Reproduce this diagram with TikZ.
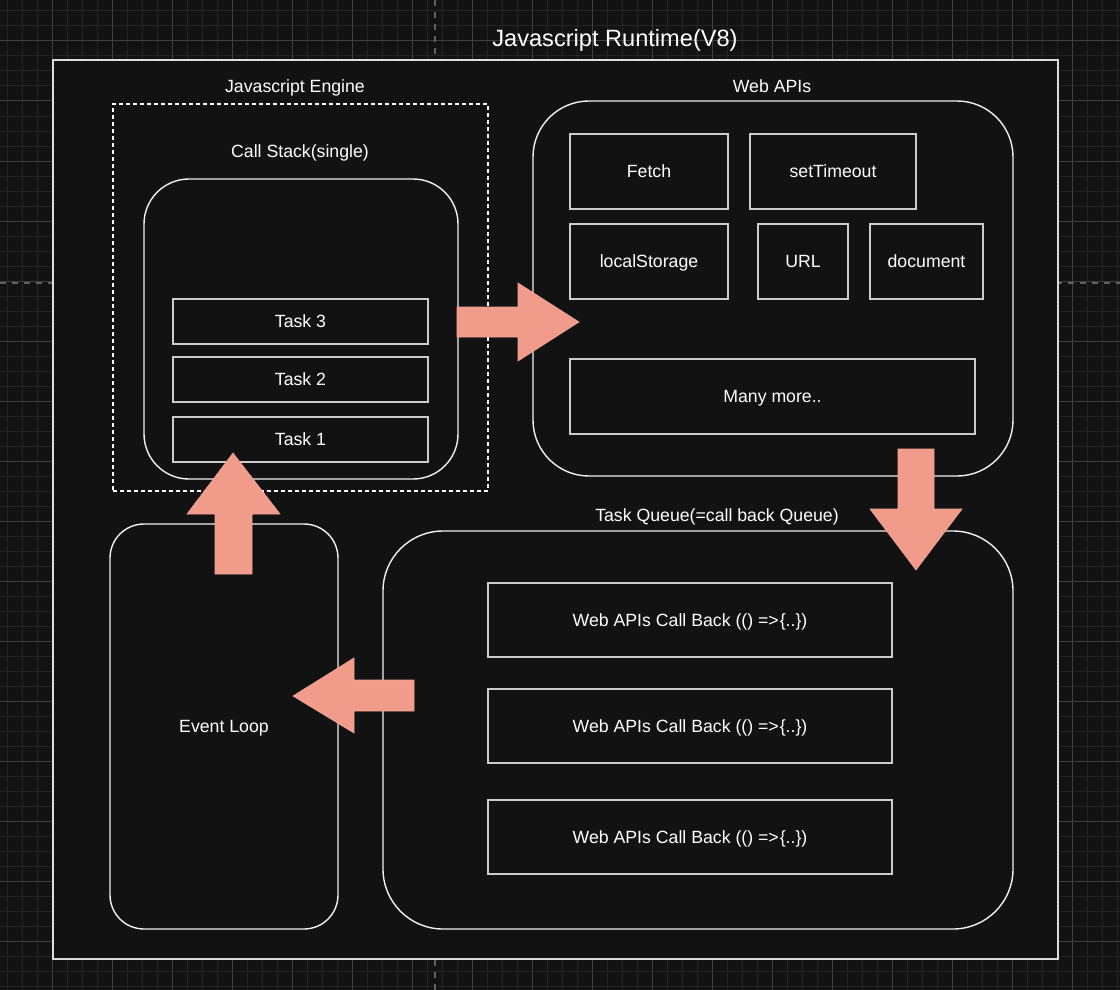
\documentclass[tikz,border=0pt]{standalone}
\usepackage{fontspec}
\setmainfont{Liberation Sans}
\usetikzlibrary{arrows}

\definecolor{bgcol}{RGB}{18,18,18}
\definecolor{minorgrid}{RGB}{36,36,36}
\definecolor{majorgrid}{RGB}{64,64,64}
\definecolor{axisgrid}{RGB}{96,96,96}
\definecolor{cellline}{RGB}{204,204,204}
\definecolor{boxline}{RGB}{240,240,240}
\definecolor{salmon}{RGB}{241,155,139}

\tikzset{
  lbl/.style={text=white, font=\fontsize{17.7}{20}\selectfont, text height=12.6pt, text depth=0pt},
  cell/.style={lbl, draw=cellline, fill=bgcol, line width=1.4pt, inner sep=0pt},
  roundbox/.style={draw=boxline, fill=bgcol, line width=1.4pt, inner sep=0pt},
  bigarrow/.style={fill=salmon, draw=salmon!90!white, line width=0.6pt}
}

\begin{document}
\begin{tikzpicture}[>=latex, x=1pt, y=-1pt]

\useasboundingbox (0,0) rectangle (1120,990);
\fill[bgcol] (0,0) rectangle (1120,990);

%grid
\foreach \x in {7,22,...,1120}
\draw[minorgrid, line width=1pt] (\x,0) -- (\x,990);
\foreach \y in {11,26,...,990}
\draw[minorgrid, line width=1pt] (0,\y) -- (1120,\y);
\foreach \x in {52,112,...,1120}
\draw[majorgrid, line width=1pt] (\x,0) -- (\x,990);
\foreach \y in {41,101,...,990}
\draw[majorgrid, line width=1pt] (0,\y) -- (1120,\y);
\draw[axisgrid, line width=1.5pt, dash pattern=on 6pt off 6pt] (435,0) -- (435,990);
\draw[axisgrid, line width=1.5pt, dash pattern=on 6pt off 6pt] (0,283) -- (1120,283);

\node[lbl, font=\fontsize{23.6}{26}\selectfont, text height=16.8pt] (title) at (615,38) {Javascript Runtime(V8)};
\node[roundbox, draw=boxline!92!black, minimum width=1005pt, minimum height=899pt] (runtime) at (555.5,509.5) {};

% engine + call stack
\node[lbl] (enginelbl) at (295,86) {Javascript Engine};
\node[draw=white, line width=1.2pt, dash pattern=on 4pt off 3pt, minimum width=375pt, minimum height=387pt, inner sep=0pt] (engine) at (300.5,297.5) {};
\node[lbl] (stacklbl) at (300,151) {Call Stack(single)};
\node[roundbox, rounded corners=45pt, minimum width=314pt, minimum height=300pt] (stack) at (301,329) {};
\node[cell, minimum width=255pt, minimum height=45pt] (task3) at (300.5,321.5) {Task 3};
\node[cell, minimum width=255pt, minimum height=45pt] (task2) at (300.5,379.5) {Task 2};
\node[cell, minimum width=255pt, minimum height=45pt] (task1) at (300.5,439.5) {Task 1};

% web apis
\node[lbl] (weblbl) at (772,86) {Web APIs};
\node[roundbox, rounded corners=56pt, minimum width=480pt, minimum height=375pt] (webapis) at (773,288.5) {};
\node[cell, minimum width=158pt, minimum height=75pt] (fetch) at (649,171.5) {Fetch};
\node[cell, minimum width=166pt, minimum height=75pt] (timeout) at (833,171.5) {setTimeout};
\node[cell, minimum width=158pt, minimum height=75pt] (storage) at (649,261.5) {localStorage};
\node[cell, minimum width=90pt, minimum height=75pt] (url) at (803,261.5) {URL};
\node[cell, minimum width=113pt, minimum height=75pt] (document) at (926.5,261.5) {document};
\node[cell, minimum width=405pt, minimum height=75pt] (more) at (772.5,396.5) {Many more..};

% task queue
\node[lbl] (queuelbl) at (717,515) {Task Queue(=call back Queue)};
\node[roundbox, rounded corners=60pt, minimum width=630pt, minimum height=398pt] (queue) at (698,730) {};
\foreach \n/\y in {cb1/620, cb2/726, cb3/837}
\node[cell, minimum width=404pt, minimum height=74pt] (\n) at (690,\y) {Web APIs Call Back (() =>\kern1pt\{..\})};

% event loop
\node[roundbox, lbl, rounded corners=34pt, minimum width=228pt, minimum height=405pt] (loop) at (224,726.5) {Event Loop};

% block arrows
\draw[bigarrow] (457,307) -- (518,307) -- (518,283) -- (579,322) -- (518,361) -- (518,337) -- (457,337) -- cycle;
\draw[bigarrow] (898,449) -- (934,449) -- (934,509) -- (962,509) -- (916,570) -- (870,509) -- (898,509) -- cycle;
\draw[bigarrow] (414,680) -- (354,680) -- (354,658) -- (293,696) -- (354,733) -- (354,711) -- (414,711) -- cycle;
\draw[bigarrow] (215,574) -- (215,514) -- (187,514) -- (233,453) -- (280,514) -- (252,514) -- (252,574) -- cycle;

\end{tikzpicture}
\end{document}
